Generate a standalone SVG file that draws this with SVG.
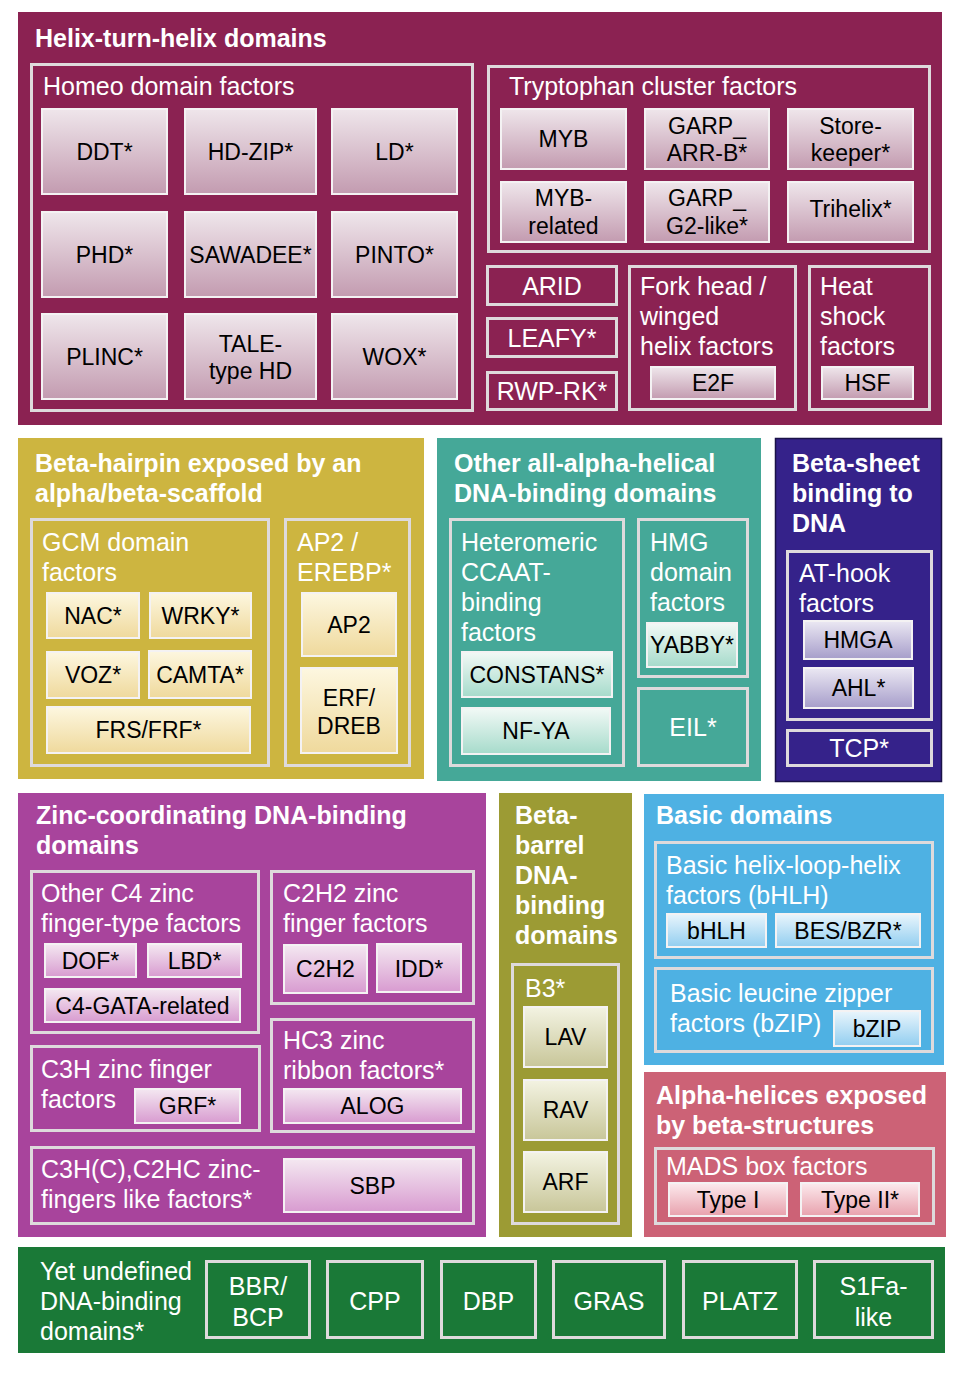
<svg xmlns="http://www.w3.org/2000/svg" width="966" height="1376" viewBox="0 0 966 1376">
<style>
text{font-family:"Liberation Sans",Arial,Helvetica,sans-serif}
.t{font-size:25px;font-weight:bold;fill:#fff}
.s{font-size:25px;fill:#fff}
.sc{font-size:25px;fill:#fff;text-anchor:middle}
.l{font-size:23px;fill:#000;text-anchor:middle}
.f{fill:none;stroke:#dedadc;stroke-width:3}
.lf{stroke:#f4f2f3;stroke-width:2}
.hth{fill:url(#gH)}.ylw{fill:url(#gY)}.tl{fill:url(#gT)}.ind{fill:url(#gI)}.zn{fill:url(#gZ)}.olv{fill:url(#gO)}.blu{fill:url(#gB)}.ros{fill:url(#gR)}
</style>
<defs>
<linearGradient id="gH" x1="0" y1="0" x2="0" y2="1"><stop offset="0" stop-color="#efe6eb"/><stop offset="1" stop-color="#c39bb0"/></linearGradient>
<linearGradient id="gY" x1="0" y1="0" x2="0" y2="1"><stop offset="0" stop-color="#fdf7e0"/><stop offset="1" stop-color="#efd99c"/></linearGradient>
<linearGradient id="gT" x1="0" y1="0" x2="0" y2="1"><stop offset="0" stop-color="#f2f9f6"/><stop offset="1" stop-color="#a6dbcb"/></linearGradient>
<linearGradient id="gI" x1="0" y1="0" x2="0" y2="1"><stop offset="0" stop-color="#ebe8f3"/><stop offset="1" stop-color="#a69dca"/></linearGradient>
<linearGradient id="gZ" x1="0" y1="0" x2="0" y2="1"><stop offset="0" stop-color="#f4e8f1"/><stop offset="1" stop-color="#d89bd0"/></linearGradient>
<linearGradient id="gO" x1="0" y1="0" x2="0" y2="1"><stop offset="0" stop-color="#f3f3e2"/><stop offset="1" stop-color="#c8c699"/></linearGradient>
<linearGradient id="gB" x1="0" y1="0" x2="0" y2="1"><stop offset="0" stop-color="#e9f5fc"/><stop offset="1" stop-color="#92cef0"/></linearGradient>
<linearGradient id="gR" x1="0" y1="0" x2="0" y2="1"><stop offset="0" stop-color="#fceaed"/><stop offset="1" stop-color="#e8a1ad"/></linearGradient>
</defs>

<!-- Helix-turn-helix -->
<g id="hth">
<rect x="18" y="12" width="924" height="413" fill="#8b2252"/>
<text class="t" x="35" y="47">Helix-turn-helix domains</text>
</g>
<g id="homeo">
<rect class="f" x="31.5" y="64.5" width="441" height="346"/>
<text class="s" x="43" y="95">Homeo domain factors</text>
</g>
<g id="ddt"><rect class="lf hth" x="42" y="109" width="125" height="85"/><text class="l" x="104.5" y="160">DDT*</text></g>
<g id="hdzip"><rect class="lf hth" x="185" y="109" width="131" height="85"/><text class="l" x="250.5" y="160">HD-ZIP*</text></g>
<g id="ld"><rect class="lf hth" x="332" y="109" width="125" height="85"/><text class="l" x="394.5" y="160">LD*</text></g>
<g id="phd"><rect class="lf hth" x="42" y="212" width="125" height="85"/><text class="l" x="104.5" y="263">PHD*</text></g>
<g id="sawadee"><rect class="lf hth" x="185" y="212" width="131" height="85"/><text class="l" x="250.5" y="263">SAWADEE*</text></g>
<g id="pinto"><rect class="lf hth" x="332" y="212" width="125" height="85"/><text class="l" x="394.5" y="263">PINTO*</text></g>
<g id="plinc"><rect class="lf hth" x="42" y="314" width="125" height="85"/><text class="l" x="104.5" y="365">PLINC*</text></g>
<g id="tale"><rect class="lf hth" x="185" y="314" width="131" height="85"/><text class="l" x="250.5" y="352">TALE-</text><text class="l" x="250.5" y="379">type HD</text></g>
<g id="wox"><rect class="lf hth" x="332" y="314" width="125" height="85"/><text class="l" x="394.5" y="365">WOX*</text></g>

<g id="tryptophan">
<rect class="f" x="488.5" y="66.5" width="441" height="185"/>
<text class="s" x="509" y="95">Tryptophan cluster factors</text>
</g>
<g id="myb"><rect class="lf hth" x="501" y="109" width="125" height="60"/><text class="l" x="563.5" y="147">MYB</text></g>
<g id="garparr"><rect class="lf hth" x="645" y="109" width="124" height="60"/><text class="l" x="707" y="134">GARP_</text><text class="l" x="707" y="161">ARR-B*</text></g>
<g id="storekeeper"><rect class="lf hth" x="788" y="109" width="125" height="60"/><text class="l" x="850.5" y="134">Store-</text><text class="l" x="850.5" y="161">keeper*</text></g>
<g id="mybrel"><rect class="lf hth" x="501" y="182" width="125" height="60"/><text class="l" x="563.5" y="206">MYB-</text><text class="l" x="563.5" y="234">related</text></g>
<g id="garpg2"><rect class="lf hth" x="645" y="182" width="124" height="60"/><text class="l" x="707" y="206">GARP_</text><text class="l" x="707" y="234">G2-like*</text></g>
<g id="trihelix"><rect class="lf hth" x="788" y="182" width="125" height="60"/><text class="l" x="850.5" y="217">Trihelix*</text></g>

<g id="arid"><rect class="f" x="487.5" y="266.5" width="129" height="38"/><text class="sc" x="552" y="295">ARID</text></g>
<g id="leafy"><rect class="f" x="487.5" y="318.5" width="129" height="38"/><text class="sc" x="552" y="347">LEAFY*</text></g>
<g id="rwprk"><rect class="f" x="487.5" y="372.5" width="129" height="37"/><text class="sc" x="552" y="400">RWP-RK*</text></g>

<g id="forkhead">
<rect class="f" x="629.5" y="266.5" width="166" height="143"/>
<text class="s" x="640" y="295">Fork head /</text>
<text class="s" x="640" y="325">winged</text>
<text class="s" x="640" y="355">helix factors</text>
</g>
<g id="e2f"><rect class="lf hth" x="651" y="367" width="124" height="32"/><text class="l" x="713" y="391">E2F</text></g>
<g id="heatshock">
<rect class="f" x="809.5" y="266.5" width="120" height="143"/>
<text class="s" x="820" y="295">Heat</text>
<text class="s" x="820" y="325">shock</text>
<text class="s" x="820" y="355">factors</text>
</g>
<g id="hsf"><rect class="lf hth" x="822" y="367" width="91" height="32"/><text class="l" x="867.5" y="391">HSF</text></g>

<!-- Beta-hairpin -->
<g id="betahairpin">
<rect x="18" y="438" width="406" height="341" fill="#cdb540"/>
<text class="t" x="35" y="472">Beta-hairpin exposed by an</text>
<text class="t" x="35" y="502">alpha/beta-scaffold</text>
</g>
<g id="gcm">
<rect class="f" x="31.5" y="519.5" width="237" height="246"/>
<text class="s" x="42" y="551">GCM domain</text>
<text class="s" x="42" y="581">factors</text>
</g>
<g id="nac"><rect class="lf ylw" x="47" y="593" width="92" height="45"/><text class="l" x="93" y="624">NAC*</text></g>
<g id="wrky"><rect class="lf ylw" x="150" y="593" width="101" height="45"/><text class="l" x="200.5" y="624">WRKY*</text></g>
<g id="voz"><rect class="lf ylw" x="47" y="652" width="92" height="46"/><text class="l" x="93" y="683">VOZ*</text></g>
<g id="camta"><rect class="lf ylw" x="149" y="651" width="102" height="47"/><text class="l" x="200" y="683">CAMTA*</text></g>
<g id="frs"><rect class="lf ylw" x="47" y="707" width="203" height="46"/><text class="l" x="148.5" y="738">FRS/FRF*</text></g>
<g id="ap2erebp">
<rect class="f" x="285.5" y="519.5" width="124" height="246"/>
<text class="s" x="297" y="551">AP2 /</text>
<text class="s" x="297" y="581">EREBP*</text>
</g>
<g id="ap2"><rect class="lf ylw" x="302" y="593" width="94" height="63"/><text class="l" x="349" y="633">AP2</text></g>
<g id="erf"><rect class="lf ylw" x="301" y="668" width="96" height="85"/><text class="l" x="349" y="706">ERF/</text><text class="l" x="349" y="734">DREB</text></g>

<!-- Other all-alpha-helical -->
<g id="allalpha">
<rect x="437" y="438" width="324" height="343" fill="#45a898"/>
<text class="t" x="454" y="472">Other all-alpha-helical</text>
<text class="t" x="454" y="502">DNA-binding domains</text>
</g>
<g id="ccaat">
<rect class="f" x="450.5" y="519.5" width="173" height="246"/>
<text class="s" x="461" y="551">Heteromeric</text>
<text class="s" x="461" y="581">CCAAT-</text>
<text class="s" x="461" y="611">binding</text>
<text class="s" x="461" y="641">factors</text>
</g>
<g id="constans"><rect class="lf tl" x="462" y="652" width="150" height="45"/><text class="l" x="537" y="683">CONSTANS*</text></g>
<g id="nfya"><rect class="lf tl" x="462" y="708" width="148" height="46"/><text class="l" x="536" y="739">NF-YA</text></g>
<g id="hmg">
<rect class="f" x="638.5" y="519.5" width="109" height="157"/>
<text class="s" x="650" y="551">HMG</text>
<text class="s" x="650" y="581">domain</text>
<text class="s" x="650" y="611">factors</text>
</g>
<g id="yabby"><rect class="lf tl" x="647" y="623" width="90" height="44"/><text class="l" x="692" y="653">YABBY*</text></g>
<g id="eil"><rect class="f" x="638.5" y="688.5" width="109" height="77"/><text class="sc" x="693" y="736">EIL*</text></g>

<!-- Beta-sheet -->
<g id="betasheet">
<rect x="775.5" y="438.5" width="166" height="343" fill="#35228a" stroke="#1b1248" stroke-width="1.5"/>
<text class="t" x="792" y="472">Beta-sheet</text>
<text class="t" x="792" y="502">binding to</text>
<text class="t" x="792" y="532">DNA</text>
</g>
<g id="athook">
<rect class="f" x="787.5" y="551.5" width="144" height="168"/>
<text class="s" x="799" y="582">AT-hook</text>
<text class="s" x="799" y="612">factors</text>
</g>
<g id="hmga"><rect class="lf ind" x="804" y="621" width="108" height="38"/><text class="l" x="858" y="648">HMGA</text></g>
<g id="ahl"><rect class="lf ind" x="804" y="668" width="109" height="40"/><text class="l" x="858.5" y="696">AHL*</text></g>
<g id="tcp"><rect class="f" x="787.5" y="730.5" width="144" height="35"/><text class="sc" x="859" y="757">TCP*</text></g>

<!-- Zinc-coordinating -->
<g id="zinc">
<rect x="18" y="793" width="468" height="444" fill="#a8449c"/>
<text class="t" x="36" y="824">Zinc-coordinating DNA-binding</text>
<text class="t" x="36" y="854">domains</text>
</g>
<g id="c4">
<rect class="f" x="31.5" y="871.5" width="227" height="161"/>
<text class="s" x="41" y="902">Other C4 zinc</text>
<text class="s" x="41" y="932">finger-type factors</text>
</g>
<g id="dof"><rect class="lf zn" x="45" y="944" width="91" height="33"/><text class="l" x="90.5" y="969">DOF*</text></g>
<g id="lbd"><rect class="lf zn" x="148" y="944" width="93" height="33"/><text class="l" x="194.5" y="969">LBD*</text></g>
<g id="c4gata"><rect class="lf zn" x="45" y="989" width="195" height="33"/><text class="l" x="142.5" y="1014">C4-GATA-related</text></g>
<g id="c2h2f">
<rect class="f" x="271.5" y="871.5" width="202" height="132"/>
<text class="s" x="283" y="902">C2H2 zinc</text>
<text class="s" x="283" y="932">finger factors</text>
</g>
<g id="c2h2"><rect class="lf zn" x="284" y="945" width="83" height="48"/><text class="l" x="325.5" y="977">C2H2</text></g>
<g id="idd"><rect class="lf zn" x="377" y="944" width="84" height="48"/><text class="l" x="419" y="977">IDD*</text></g>
<g id="hc3">
<rect class="f" x="271.5" y="1019.5" width="202" height="112"/>
<text class="s" x="283" y="1049">HC3 zinc</text>
<text class="s" x="283" y="1079">ribbon factors*</text>
</g>
<g id="alog"><rect class="lf zn" x="284" y="1089" width="177" height="34"/><text class="l" x="372.5" y="1114">ALOG</text></g>
<g id="c3h">
<rect class="f" x="31.5" y="1046.5" width="228" height="84"/>
<text class="s" x="41" y="1078">C3H zinc finger</text>
<text class="s" x="41" y="1108">factors</text>
</g>
<g id="grf"><rect class="lf zn" x="135" y="1089" width="105" height="34"/><text class="l" x="187.5" y="1114">GRF*</text></g>
<g id="c3hc">
<rect class="f" x="31.5" y="1147.5" width="442" height="76"/>
<text class="s" x="41" y="1178">C3H(C),C2HC zinc-</text>
<text class="s" x="41" y="1208">fingers like factors*</text>
</g>
<g id="sbp"><rect class="lf zn" x="284" y="1159" width="177" height="53"/><text class="l" x="372.5" y="1194">SBP</text></g>

<!-- Beta-barrel -->
<g id="betabarrel">
<rect x="499" y="793" width="133" height="444" fill="#9c9b34"/>
<text class="t" x="515" y="824">Beta-</text>
<text class="t" x="515" y="854">barrel</text>
<text class="t" x="515" y="884">DNA-</text>
<text class="t" x="515" y="914">binding</text>
<text class="t" x="515" y="944">domains</text>
</g>
<g id="b3">
<rect class="f" x="512.5" y="964.5" width="106" height="259"/>
<text class="s" x="525" y="997">B3*</text>
</g>
<g id="lav"><rect class="lf olv" x="524" y="1007" width="83" height="60"/><text class="l" x="565.5" y="1045">LAV</text></g>
<g id="rav"><rect class="lf olv" x="524" y="1080" width="83" height="60"/><text class="l" x="565.5" y="1118">RAV</text></g>
<g id="arf"><rect class="lf olv" x="524" y="1152" width="83" height="60"/><text class="l" x="565.5" y="1190">ARF</text></g>

<!-- Basic domains -->
<g id="basic">
<rect x="644" y="794" width="300" height="271" fill="#4eb1e3"/>
<text class="t" x="656" y="824">Basic domains</text>
</g>
<g id="bhlhf">
<rect class="f" x="655.5" y="842.5" width="277" height="115"/>
<text class="s" x="666" y="874">Basic helix-loop-helix</text>
<text class="s" x="666" y="904">factors (bHLH)</text>
</g>
<g id="bhlh"><rect class="lf blu" x="667" y="914" width="99" height="33"/><text class="l" x="716.5" y="939">bHLH</text></g>
<g id="besbzr"><rect class="lf blu" x="776" y="914" width="144" height="33"/><text class="l" x="848" y="939">BES/BZR*</text></g>
<g id="bzipf">
<rect class="f" x="655.5" y="968.5" width="277" height="83"/>
<text class="s" x="670" y="1002">Basic leucine zipper</text>
<text class="s" x="670" y="1032">factors (bZIP)</text>
</g>
<g id="bzip"><rect class="lf blu" x="834" y="1011" width="86" height="35"/><text class="l" x="877" y="1037">bZIP</text></g>

<!-- Alpha-helices exposed by beta-structures -->
<g id="alphahelices">
<rect x="644" y="1072" width="302" height="165" fill="#cc6276"/>
<text class="t" x="656" y="1104">Alpha-helices exposed</text>
<text class="t" x="656" y="1134">by beta-structures</text>
</g>
<g id="mads">
<rect class="f" x="655.5" y="1148.5" width="278" height="75"/>
<text class="s" x="666" y="1175">MADS box factors</text>
</g>
<g id="type1"><rect class="lf ros" x="669" y="1183" width="118" height="33"/><text class="l" x="728" y="1208">Type I</text></g>
<g id="type2"><rect class="lf ros" x="801" y="1183" width="118" height="33"/><text class="l" x="860" y="1208">Type II*</text></g>

<!-- Yet undefined -->
<g id="undefined">
<rect x="18" y="1247" width="927" height="106" fill="#1a7937"/>
<text class="s" x="40" y="1280">Yet undefined</text>
<text class="s" x="40" y="1310">DNA-binding</text>
<text class="s" x="40" y="1340">domains*</text>
</g>
<g id="bbr"><rect class="f" x="206.5" y="1261.5" width="103" height="76"/><text class="sc" x="258" y="1295">BBR/</text><text class="sc" x="258" y="1326">BCP</text></g>
<g id="cpp"><rect class="f" x="327.5" y="1261.5" width="95" height="76"/><text class="sc" x="375" y="1310">CPP</text></g>
<g id="dbp"><rect class="f" x="441.5" y="1261.5" width="94" height="76"/><text class="sc" x="488.5" y="1310">DBP</text></g>
<g id="gras"><rect class="f" x="553.5" y="1261.5" width="111" height="76"/><text class="sc" x="609" y="1310">GRAS</text></g>
<g id="platz"><rect class="f" x="683.5" y="1261.5" width="113" height="76"/><text class="sc" x="740" y="1310">PLATZ</text></g>
<g id="s1fa"><rect class="f" x="814.5" y="1261.5" width="118" height="76"/><text class="sc" x="873.5" y="1295">S1Fa-</text><text class="sc" x="873.5" y="1326">like</text></g>

<g id="connectors"/>
</svg>
